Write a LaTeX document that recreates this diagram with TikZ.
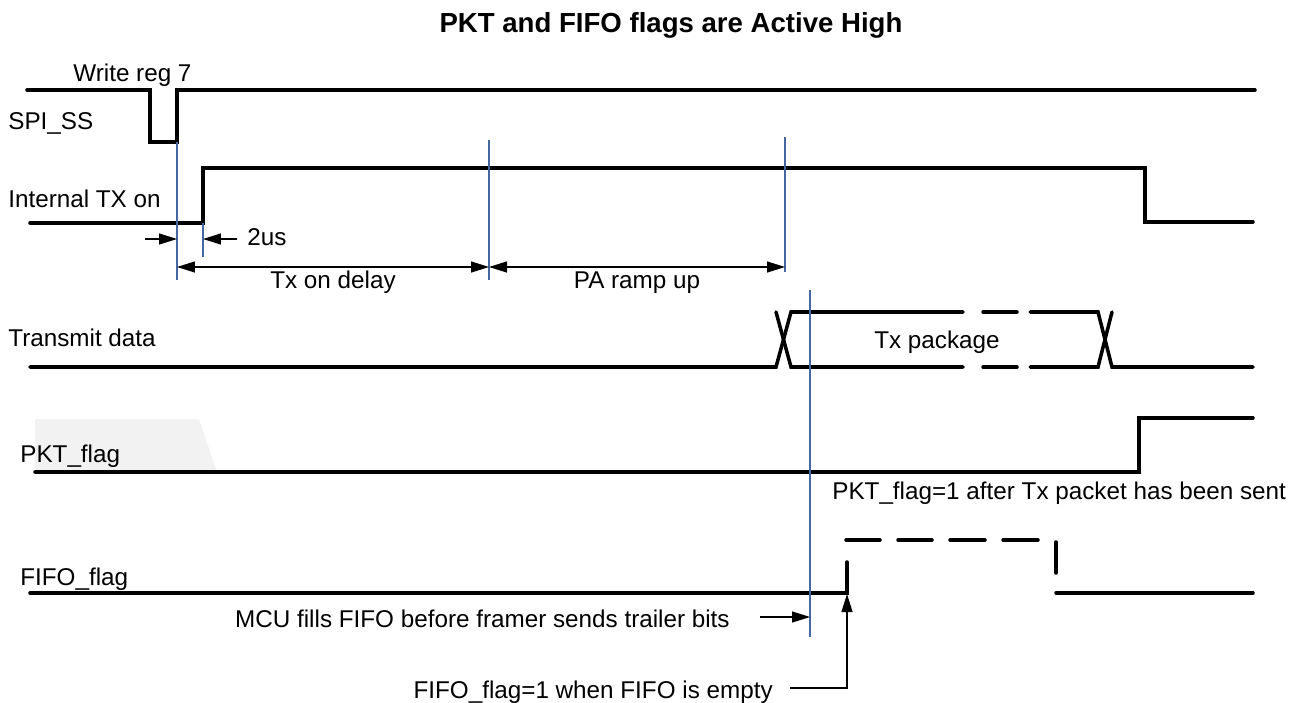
\documentclass[tikz,border=0pt]{standalone}
\usepackage{fontspec}
\setmainfont{Liberation Sans}
\usetikzlibrary{arrows.meta}

\definecolor{markerblue}{RGB}{68,104,160}

\tikzset{
  signal/.style={black, line width=2pt, line cap=round},
  marker/.style={markerblue, line width=0.6pt},
  dimarrow/.style={black, line width=0.7pt,
    {Triangle[length=0.36cm,width=0.22cm]}-{Triangle[length=0.36cm,width=0.22cm]}},
  pointer/.style={black, line width=0.7pt, -{Triangle[length=0.36cm,width=0.22cm]}},
  sigtext/.style={inner sep=0pt, anchor=base west, font=\fontsize{13.8}{16}\selectfont},
  titletext/.style={inner sep=0pt, anchor=base, font=\bfseries\fontsize{15.7}{18}\selectfont},
}

\begin{document}
\begin{tikzpicture}[x=0.02cm, y=-0.02cm]

\useasboundingbox (0,0) rectangle (1302,703);

%% - Draw title
%% - --------------------------------------

\node[titletext] (title) at (671,32) {PKT and FIFO flags are Active High};

%% - Draw signals
%% - --------------------------------------

%% - SPI_SS
\draw[signal] (27,90) -- (150,90) -- (150,142) -- (177,142) -- (177,90) -- (1255,90);

%% - Internal TX on
\draw[signal] (30,223) -- (203,223) -- (203,168) -- (1145,168) -- (1145,222) -- (1253,222);

%% - Transmit data
\draw[signal] (30,367) -- (776,367) -- (791,312) -- (963,312);
\draw[signal] (776,312) -- (791,367) -- (963,367);
\draw[signal] (983,312) -- (1017,312);
\draw[signal] (983,367) -- (1017,367);
\draw[signal] (1030,312) -- (1098,312) -- (1112,367) -- (1253,367);
\draw[signal] (1030,367) -- (1098,367) -- (1112,312);

%% - PKT_flag (shaded area first)
\fill[gray!10] (35,419) -- (199,419) -- (217,472) -- (35,472) -- cycle;
\draw[signal] (35,472) -- (1139,472) -- (1139,418) -- (1253,418);

%% - FIFO_flag
\draw[signal] (30,593) -- (847,593) -- (847,562);
\foreach \xa/\xb in {846/880, 898/932, 950/985, 1003/1038}
  \draw[signal] (\xa,540) -- (\xb,540);
\draw[signal] (1056,542) -- (1056,573);
\draw[signal] (1056,593) -- (1253,593);

%% - Draw timing markers
%% - --------------------------------------

\coordinate (ssup) at (177,142);
\coordinate (ssend) at (177,280);
\coordinate (txup) at (203,223);
\coordinate (txend) at (203,257);
\coordinate (delaytop) at (489,140);
\coordinate (delayend) at (489,280);
\coordinate (ramptop) at (785,137);
\coordinate (rampend) at (785,272);
\coordinate (fifotop) at (810,290);
\coordinate (fifoend) at (810,637);

\draw[marker] (ssup) -- (ssend);
\draw[marker] (txup) -- (txend);
\draw[marker] (delaytop) -- (delayend);
\draw[marker] (ramptop) -- (rampend);
\draw[marker] (fifotop) -- (fifoend);

%% - Draw arrows
%% - --------------------------------------

%% - 2us
\coordinate (usleft) at (145,239);
\coordinate (usa) at (177,239);
\coordinate (usb) at (203,239);
\coordinate (usright) at (237,239);
\draw[pointer] (usleft) -- (usa);
\draw[pointer] (usright) -- (usb);

%% - Tx on delay, PA ramp up
\coordinate (delaya) at (177,267);
\coordinate (delayb) at (489,267);
\coordinate (rampb) at (785,267);
\draw[dimarrow] (delaya) -- (delayb);
\draw[dimarrow] (delayb) -- (rampb);

%% - MCU fills FIFO
\coordinate (mcufrom) at (760,617);
\coordinate (mcuto) at (810,617);
\draw[pointer] (mcufrom) -- (mcuto);

%% - FIFO empty
\coordinate (emptyfrom) at (790,688);
\coordinate (emptyto) at (847,594);
\draw[pointer] (emptyfrom) -- (847,688) -- (emptyto);

%% - Draw texts
%% - --------------------------------------

\node[sigtext] (writereg) at (73,81) {Write reg 7};
\node[sigtext] (spiss) at (8,129) {SPI\_SS};
\node[sigtext] (txon) at (8,207) {Internal TX on};
\node[sigtext] (twous) at (247,245) {2us};
\node[sigtext, anchor=base] (delay) at (333,288) {Tx on delay};
\node[sigtext, anchor=base] (ramp) at (637,288) {PA ramp up};
\node[sigtext] (txdata) at (8,346) {Transmit data};
\node[sigtext, anchor=base] (txpkg) at (937,348) {Tx package};
\node[sigtext] (pktflag) at (20,462) {PKT\_flag};
\node[sigtext] (pktnote) at (832,499) {PKT\_flag=1 after Tx packet has been sent};
\node[sigtext] (fifoflag) at (20,585) {FIFO\_flag};
\node[sigtext, anchor=base east] (mcunote) at (730,627) {MCU fills FIFO before framer sends trailer bits};
\node[sigtext, anchor=base east] (emptynote) at (773,698) {FIFO\_flag=1 when FIFO is empty};

\end{tikzpicture}
\end{document}
